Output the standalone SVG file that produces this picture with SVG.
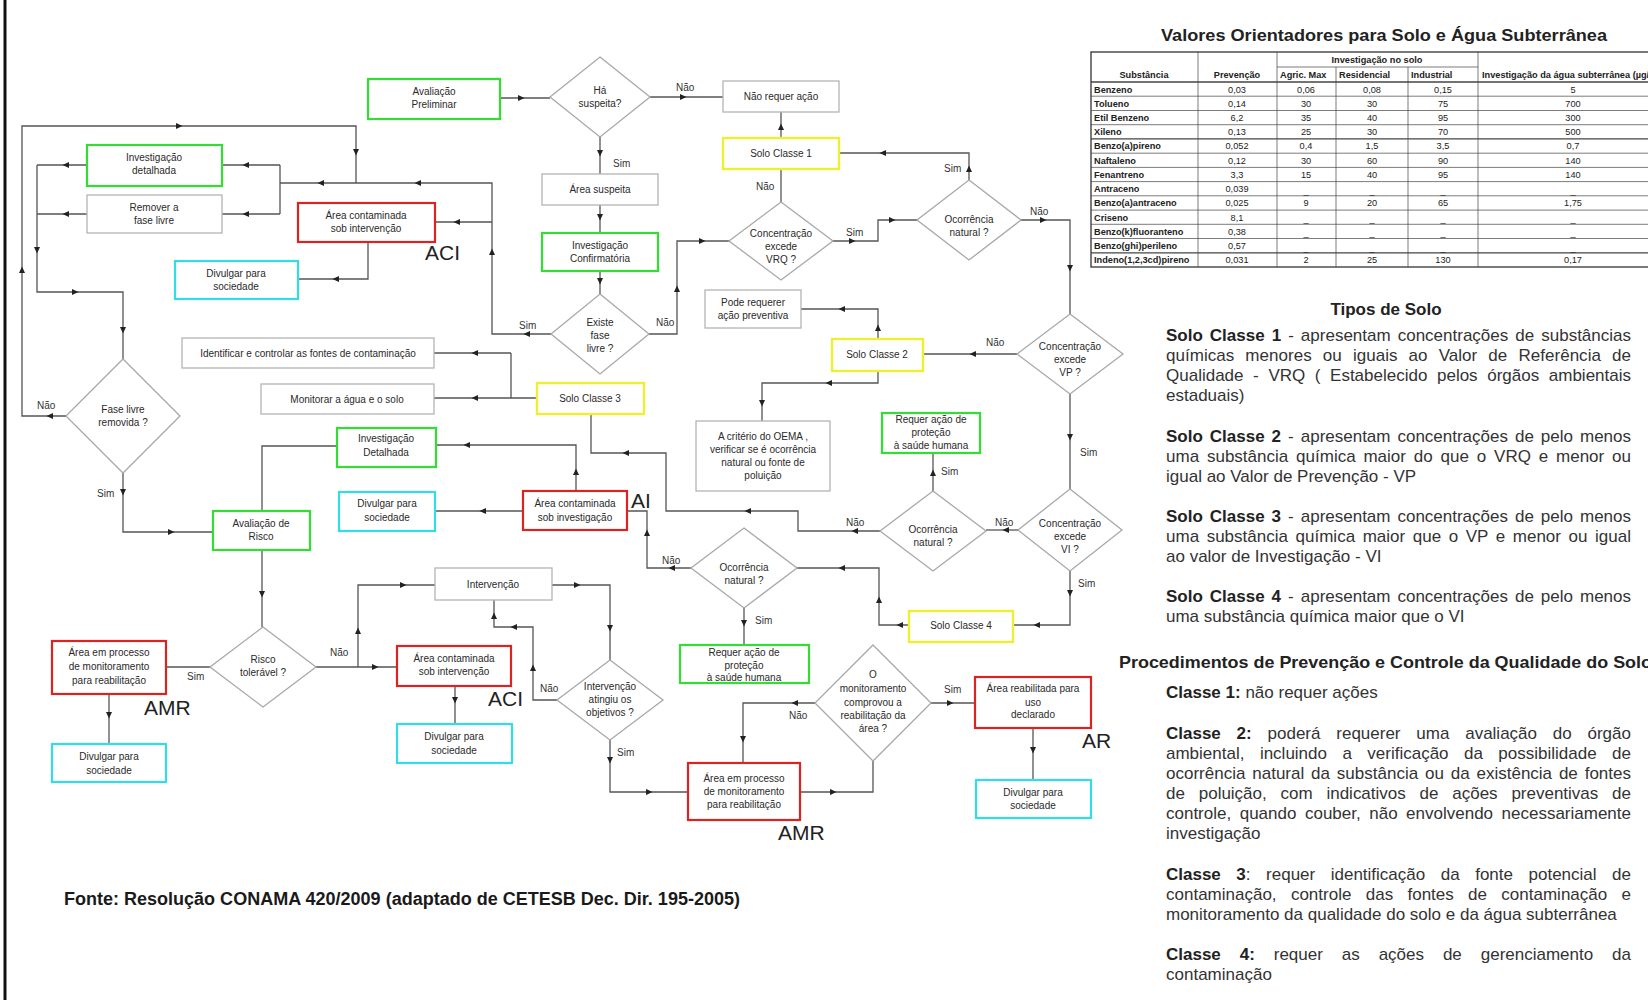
<svg xmlns="http://www.w3.org/2000/svg" xmlns:xlink="http://www.w3.org/1999/xlink" width="1648" height="1000" viewBox="0 0 1648 1000">
<style>
.c{fill:none;stroke:#555;stroke-width:1.3}
.gb{fill:#fff;stroke:#33dd33;stroke-width:2.2}
.rb{fill:#fff;stroke:#dd2222;stroke-width:2.2}
.cb{fill:#fff;stroke:#33dde6;stroke-width:2.2}
.yb{fill:#fff;stroke:#eeee33;stroke-width:2.4}
.nb{fill:#fff;stroke:#b4b4b4;stroke-width:1.3}
.dm{fill:#fff;stroke:#a8a8a8;stroke-width:1.3}
.t{font-family:"Liberation Sans",Arial,sans-serif;font-size:10px;fill:#2a2a2a;text-anchor:middle}
.l{font-family:"Liberation Sans",Arial,sans-serif;font-size:10px;fill:#333}
.big{font-family:"Liberation Sans",Arial,sans-serif;font-size:21px;fill:#222}
.tb{font-family:"Liberation Sans",Arial,sans-serif;font-size:9.2px;fill:#222}
.tn{font-family:"Liberation Sans",Arial,sans-serif;font-size:9.2px;fill:#222;text-anchor:middle}
.tl{stroke:#444;stroke-width:0.7}
.p{font-family:"Liberation Sans",Arial,sans-serif;font-size:17px;fill:#333}
.h{font-family:"Liberation Sans",Arial,sans-serif;font-size:17px;font-weight:bold;fill:#222}
</style>
<defs>
<path id="ar" d="M3.5,0 L-3,-3 L-3,3 Z" fill="#222"/>
</defs>
<rect width="1648" height="1000" fill="#fff"/>
<line x1="5" y1="0" x2="5" y2="1000" stroke="#111" stroke-width="3"/>

<!-- connectors -->
<g id="connectors">
<path class="c" d="M500,98 H550"/>
<path class="c" d="M650,97 H723"/>
<path class="c" d="M600,137 V174"/>
<path class="c" d="M600,205 V233"/>
<path class="c" d="M600,271 V294"/>
<path class="c" d="M649,334 H677 V241 H729"/>
<path class="c" d="M781,202 V169"/>
<path class="c" d="M781,138 V112"/>
<path class="c" d="M833,241 H878 V220 H917"/>
<path class="c" d="M969,180 V153 H839"/>
<path class="c" d="M1021,220 H1070 V314"/>
<path class="c" d="M1017,354 H923"/>
<path class="c" d="M878,339 V309 H801"/>
<path class="c" d="M878,371 V383 H762 V421"/>
<path class="c" d="M1070,394 V489"/>
<path class="c" d="M1018,530 H986"/>
<path class="c" d="M933,491 V453"/>
<path class="c" d="M880,531 H798 V511 H666 V453 H591 V414"/>
<path class="c" d="M1070,571 V625 H1013"/>
<path class="c" d="M909,625 H879 V568 H797"/>
<path class="c" d="M744,608 V645"/>
<path class="c" d="M691,568 H647 V511 H627"/>
<path class="c" d="M537,398 H511 M511,353 V398 M511,353 H434 M511,398 H434"/>
<path class="c" d="M576,491 V445 H436"/>
<path class="c" d="M523,511 H435"/>
<path class="c" d="M337,446 H262 V511"/>
<path class="c" d="M123,473 V532 H213"/>
<path class="c" d="M262,550 V627"/>
<path class="c" d="M210,667 H166"/>
<path class="c" d="M109,694 V744"/>
<path class="c" d="M316,667 H358 V585 H435 M358,667 H397"/>
<path class="c" d="M455,686 V724"/>
<path class="c" d="M552,585 H610 V660"/>
<path class="c" d="M557,700 H533 V627 H494 V600"/>
<path class="c" d="M610,740 V792 H688"/>
<path class="c" d="M800,792 H873 V761"/>
<path class="c" d="M815,703 H743 V763"/>
<path class="c" d="M931,703 H975"/>
<path class="c" d="M1033,728 V780"/>
<path class="c" d="M551,334 H492 V183 H280 M492,222 H435"/>
<path class="c" d="M280,165 V214 M280,165 H222 M280,214 H222"/>
<path class="c" d="M66,416 H22 V126 H356 V183"/>
<path class="c" d="M87,165 H37 M87,214 H37 M37,165 V292 H123 V359"/>
<path class="c" d="M368,242 V279 H298"/>

<use href="#ar" transform="translate(521,98)"/>
<use href="#ar" transform="translate(683,97)"/>
<use href="#ar" transform="translate(600,153) rotate(90)"/>
<use href="#ar" transform="translate(600,217) rotate(90)"/>
<use href="#ar" transform="translate(600,281) rotate(90)"/>
<use href="#ar" transform="translate(677,289) rotate(270)"/>
<use href="#ar" transform="translate(702,241)"/>
<use href="#ar" transform="translate(781,127) rotate(270)"/>
<use href="#ar" transform="translate(852,241)"/>
<use href="#ar" transform="translate(892,220)"/>
<use href="#ar" transform="translate(969,169) rotate(270)"/>
<use href="#ar" transform="translate(883,153) rotate(180)"/>
<use href="#ar" transform="translate(1043,220)"/>
<use href="#ar" transform="translate(1070,268) rotate(90)"/>
<use href="#ar" transform="translate(973,354) rotate(180)"/>
<use href="#ar" transform="translate(878,328) rotate(270)"/>
<use href="#ar" transform="translate(842,309) rotate(180)"/>
<use href="#ar" transform="translate(829,383) rotate(180)"/>
<use href="#ar" transform="translate(762,403) rotate(90)"/>
<use href="#ar" transform="translate(1070,437) rotate(90)"/>
<use href="#ar" transform="translate(1006,530) rotate(180)"/>
<use href="#ar" transform="translate(933,473) rotate(270)"/>
<use href="#ar" transform="translate(855,531) rotate(180)"/>
<use href="#ar" transform="translate(748,511) rotate(180)"/>
<use href="#ar" transform="translate(626,453) rotate(180)"/>
<use href="#ar" transform="translate(1070,593) rotate(90)"/>
<use href="#ar" transform="translate(1037,625) rotate(180)"/>
<use href="#ar" transform="translate(900,625) rotate(180)"/>
<use href="#ar" transform="translate(879,600) rotate(270)"/>
<use href="#ar" transform="translate(842,568) rotate(180)"/>
<use href="#ar" transform="translate(744,623) rotate(90)"/>
<use href="#ar" transform="translate(672,568) rotate(180)"/>
<use href="#ar" transform="translate(647,533) rotate(270)"/>
<use href="#ar" transform="translate(475,353) rotate(180)"/>
<use href="#ar" transform="translate(475,398) rotate(180)"/>
<use href="#ar" transform="translate(576,472) rotate(270)"/>
<use href="#ar" transform="translate(467,445) rotate(180)"/>
<use href="#ar" transform="translate(483,511) rotate(180)"/>
<use href="#ar" transform="translate(123,492) rotate(90)"/>
<use href="#ar" transform="translate(171,532)"/>
<use href="#ar" transform="translate(262,594) rotate(90)"/>
<use href="#ar" transform="translate(109,715) rotate(90)"/>
<use href="#ar" transform="translate(358,631) rotate(270)"/>
<use href="#ar" transform="translate(403,585)"/>
<use href="#ar" transform="translate(375,667)"/>
<use href="#ar" transform="translate(455,700) rotate(90)"/>
<use href="#ar" transform="translate(577,585)"/>
<use href="#ar" transform="translate(610,628) rotate(90)"/>
<use href="#ar" transform="translate(533,668) rotate(270)"/>
<use href="#ar" transform="translate(514,627) rotate(180)"/>
<use href="#ar" transform="translate(494,616) rotate(270)"/>
<use href="#ar" transform="translate(610,760) rotate(90)"/>
<use href="#ar" transform="translate(649,792)"/>
<use href="#ar" transform="translate(833,792)"/>
<use href="#ar" transform="translate(795,703) rotate(180)"/>
<use href="#ar" transform="translate(743,739) rotate(90)"/>
<use href="#ar" transform="translate(950,703)"/>
<use href="#ar" transform="translate(1033,750) rotate(90)"/>
<use href="#ar" transform="translate(527,334) rotate(180)"/>
<use href="#ar" transform="translate(492,252) rotate(270)"/>
<use href="#ar" transform="translate(457,222) rotate(180)"/>
<use href="#ar" transform="translate(418,183) rotate(180)"/>
<use href="#ar" transform="translate(321,183) rotate(180)"/>
<use href="#ar" transform="translate(246,165) rotate(180)"/>
<use href="#ar" transform="translate(246,214) rotate(180)"/>
<use href="#ar" transform="translate(50,416) rotate(180)"/>
<use href="#ar" transform="translate(22,270) rotate(270)"/>
<use href="#ar" transform="translate(179,126)"/>
<use href="#ar" transform="translate(356,152) rotate(90)"/>
<use href="#ar" transform="translate(66,165) rotate(180)"/>
<use href="#ar" transform="translate(66,214) rotate(180)"/>
<use href="#ar" transform="translate(37,250) rotate(90)"/>
<use href="#ar" transform="translate(75,292)"/>
<use href="#ar" transform="translate(123,330) rotate(90)"/>
<use href="#ar" transform="translate(336,279) rotate(180)"/>

<text class="l" x="676" y="91">Não</text>
<text class="l" x="613" y="167">Sim</text>
<text class="l" x="656" y="326">Não</text>
<text class="l" x="756" y="190">Não</text>
<text class="l" x="846" y="236">Sim</text>
<text class="l" x="944" y="172">Sim</text>
<text class="l" x="1030" y="215">Não</text>
<text class="l" x="986" y="346">Não</text>
<text class="l" x="1080" y="456">Sim</text>
<text class="l" x="995" y="526">Não</text>
<text class="l" x="941" y="475">Sim</text>
<text class="l" x="846" y="526">Não</text>
<text class="l" x="1078" y="587">Sim</text>
<text class="l" x="755" y="624">Sim</text>
<text class="l" x="662" y="564">Não</text>
<text class="l" x="519" y="329">Sim</text>
<text class="l" x="37" y="409">Não</text>
<text class="l" x="97" y="497">Sim</text>
<text class="l" x="187" y="680">Sim</text>
<text class="l" x="330" y="656">Não</text>
<text class="l" x="540" y="692">Não</text>
<text class="l" x="617" y="756">Sim</text>
<text class="l" x="789" y="719">Não</text>
<text class="l" x="944" y="693">Sim</text>
</g>

<!-- nodes -->
<g id="avaliacao-preliminar"><rect class="gb" x="368" y="79" width="132" height="40"/><text class="t" x="434" y="95">Avaliação</text><text class="t" x="434" y="108">Preliminar</text></g>
<g id="ha-suspeita"><polygon class="dm" points="600,57 650,97 600,137 550,97"/><text class="t" x="600" y="94">Há</text><text class="t" x="600" y="107">suspeita?</text></g>
<g id="nao-requer-acao"><rect class="nb" x="723" y="81" width="116" height="31"/><text class="t" x="781" y="100">Não requer ação</text></g>
<g id="area-suspeita"><rect class="nb" x="542" y="174" width="116" height="31"/><text class="t" x="600" y="193">Área suspeita</text></g>
<g id="investigacao-confirmatoria"><rect class="gb" x="542" y="233" width="116" height="38"/><text class="t" x="600" y="249">Investigação</text><text class="t" x="600" y="262">Confirmatória</text></g>
<g id="solo-classe-1"><rect class="yb" x="723" y="138" width="116" height="31"/><text class="t" x="781" y="157">Solo Classe 1</text></g>
<g id="excede-vrq"><polygon class="dm" points="781,202 833,241 781,280 729,241"/><text class="t" x="781" y="237">Concentração</text><text class="t" x="781" y="250">excede</text><text class="t" x="781" y="263">VRQ ?</text></g>
<g id="ocorrencia-natural-1"><polygon class="dm" points="969,180 1021,220 969,260 917,220"/><text class="t" x="969" y="223">Ocorrência</text><text class="t" x="969" y="236">natural ?</text></g>
<g id="excede-vp"><polygon class="dm" points="1070,314 1123,354 1070,394 1017,354"/><text class="t" x="1070" y="350">Concentração</text><text class="t" x="1070" y="363">excede</text><text class="t" x="1070" y="376">VP ?</text></g>
<g id="existe-fase-livre"><polygon class="dm" points="600,294 649,334 600,374 551,334"/><text class="t" x="600" y="326">Existe</text><text class="t" x="600" y="339">fase</text><text class="t" x="600" y="352">livre ?</text></g>
<g id="pode-requerer"><rect class="nb" x="705" y="290" width="96" height="38"/><text class="t" x="753" y="306">Pode requerer</text><text class="t" x="753" y="319">ação preventiva</text></g>
<g id="solo-classe-2"><rect class="yb" x="832" y="339" width="91" height="32"/><text class="t" x="877" y="358">Solo Classe 2</text></g>
<g id="criterio-oema"><rect class="nb" x="696" y="421" width="134" height="70"/><text class="t" x="763" y="440">A critério do OEMA ,</text><text class="t" x="763" y="453">verificar se é ocorrência</text><text class="t" x="763" y="466">natural ou fonte de</text><text class="t" x="763" y="479">poluição</text></g>
<g id="solo-classe-3"><rect class="yb" x="537" y="383" width="107" height="31"/><text class="t" x="590" y="402">Solo Classe 3</text></g>
<g id="identificar-fontes"><rect class="nb" x="182" y="338" width="252" height="30"/><text class="t" x="308" y="357">Identificar e controlar as fontes de contaminação</text></g>
<g id="monitorar"><rect class="nb" x="261" y="384" width="173" height="30"/><text class="t" x="347" y="403">Monitorar a água e o solo</text></g>
<g id="requer-acao-1"><rect class="gb" x="882" y="413" width="98" height="40"/><text class="t" x="931" y="423">Requer ação de</text><text class="t" x="931" y="436">proteção</text><text class="t" x="931" y="449">à saúde humana</text></g>
<g id="excede-vi"><polygon class="dm" points="1070,489 1122,530 1070,571 1018,530"/><text class="t" x="1070" y="527">Concentração</text><text class="t" x="1070" y="540">excede</text><text class="t" x="1070" y="553">VI ?</text></g>
<g id="ocorrencia-natural-2"><polygon class="dm" points="933,491 986,531 933,571 880,531"/><text class="t" x="933" y="533">Ocorrência</text><text class="t" x="933" y="546">natural ?</text></g>
<g id="ocorrencia-natural-3"><polygon class="dm" points="744,528 797,568 744,608 691,568"/><text class="t" x="744" y="571">Ocorrência</text><text class="t" x="744" y="584">natural ?</text></g>
<g id="solo-classe-4"><rect class="yb" x="909" y="611" width="104" height="31"/><text class="t" x="961" y="629">Solo Classe 4</text></g>
<g id="requer-acao-2"><rect class="gb" x="680" y="645" width="129" height="38"/><text class="t" x="744" y="656">Requer ação de</text><text class="t" x="744" y="669">proteção</text><text class="t" x="744" y="681">à saúde humana</text></g>
<g id="area-sob-investigacao"><rect class="rb" x="523" y="491" width="104" height="39"/><text class="t" x="575" y="507">Área contaminada</text><text class="t" x="575" y="521">sob investigação</text><text class="big" x="631" y="508">AI</text></g>
<g id="investigacao-detalhada-2"><rect class="gb" x="337" y="428" width="99" height="39"/><text class="t" x="386" y="442">Investigação</text><text class="t" x="386" y="456">Detalhada</text></g>
<g id="divulgar-2"><rect class="cb" x="339" y="492" width="96" height="39"/><text class="t" x="387" y="507">Divulgar para</text><text class="t" x="387" y="521">sociedade</text></g>
<g id="fase-livre-removida"><polygon class="dm" points="123,359 180,416 123,473 66,416"/><text class="t" x="123" y="413">Fase livre</text><text class="t" x="123" y="426">removida ?</text></g>
<g id="avaliacao-risco"><rect class="gb" x="213" y="511" width="97" height="39"/><text class="t" x="261" y="527">Avaliação de</text><text class="t" x="261" y="540">Risco</text></g>
<g id="intervencao"><rect class="nb" x="435" y="568" width="117" height="32"/><text class="t" x="493" y="588">Intervenção</text></g>
<g id="risco-toleravel"><polygon class="dm" points="263,627 316,667 263,707 210,667"/><text class="t" x="263" y="663">Risco</text><text class="t" x="263" y="676">tolerável ?</text></g>
<g id="amr-1"><rect class="rb" x="52" y="641" width="114" height="53"/><text class="t" x="109" y="656">Área em processo</text><text class="t" x="109" y="670">de monitoramento</text><text class="t" x="109" y="684">para reabilitação</text><text class="big" x="144" y="715">AMR</text></g>
<g id="divulgar-3"><rect class="cb" x="52" y="744" width="114" height="38"/><text class="t" x="109" y="760">Divulgar para</text><text class="t" x="109" y="774">sociedade</text></g>
<g id="aci-2"><rect class="rb" x="397" y="646" width="114" height="40"/><text class="t" x="454" y="662">Área contaminada</text><text class="t" x="454" y="675">sob intervenção</text><text class="big" x="488" y="706">ACI</text></g>
<g id="divulgar-4"><rect class="cb" x="397" y="724" width="115" height="39"/><text class="t" x="454" y="740">Divulgar para</text><text class="t" x="454" y="754">sociedade</text></g>
<g id="intervencao-atingiu"><polygon class="dm" points="610,660 663,700 610,740 557,700"/><text class="t" x="610" y="690">Intervenção</text><text class="t" x="610" y="703">atingiu os</text><text class="t" x="610" y="716">objetivos ?</text></g>
<g id="amr-2"><rect class="rb" x="688" y="763" width="112" height="57"/><text class="t" x="744" y="782">Área em processo</text><text class="t" x="744" y="795">de monitoramento</text><text class="t" x="744" y="808">para reabilitação</text><text class="big" x="778" y="840">AMR</text></g>
<g id="monitoramento-comprovou"><polygon class="dm" points="873,645 931,703 873,761 815,703"/><text class="t" x="873" y="678">O</text><text class="t" x="873" y="692">monitoramento</text><text class="t" x="873" y="706">comprovou a</text><text class="t" x="873" y="719">reabilitação da</text><text class="t" x="873" y="732">área ?</text></g>
<g id="ar-reabilitada"><rect class="rb" x="975" y="677" width="116" height="51"/><text class="t" x="1033" y="692">Área reabilitada para</text><text class="t" x="1033" y="706">uso</text><text class="t" x="1033" y="718">declarado</text><text class="big" x="1082" y="748">AR</text></g>
<g id="divulgar-5"><rect class="cb" x="976" y="780" width="115" height="38"/><text class="t" x="1033" y="796">Divulgar para</text><text class="t" x="1033" y="809">sociedade</text></g>
<g id="investigacao-detalhada-1"><rect class="gb" x="87" y="145" width="135" height="41"/><text class="t" x="154" y="161">Investigação</text><text class="t" x="154" y="174">detalhada</text></g>
<g id="remover-fase-livre"><rect class="nb" x="87" y="195" width="135" height="38"/><text class="t" x="154" y="211">Remover a</text><text class="t" x="154" y="224">fase livre</text></g>
<g id="aci-1"><rect class="rb" x="298" y="203" width="137" height="39"/><text class="t" x="366" y="219">Área contaminada</text><text class="t" x="366" y="232">sob intervenção</text><text class="big" x="425" y="260">ACI</text></g>
<g id="divulgar-1"><rect class="cb" x="175" y="261" width="123" height="38"/><text class="t" x="236" y="277">Divulgar para</text><text class="t" x="236" y="290">sociedade</text></g>

<!-- source -->
<text x="64" y="905" font-family="'Liberation Sans Narrow','Liberation Sans',Arial,sans-serif" font-size="18" font-weight="bold" fill="#1a1a1a" textLength="676" lengthAdjust="spacingAndGlyphs">Fonte: Resolução CONAMA 420/2009 (adaptado de CETESB Dec. Dir. 195-2005)</text>

<!-- table -->
<g id="tabela">
<text class="h" x="1161" y="41" font-size="16" textLength="446" lengthAdjust="spacingAndGlyphs">Valores Orientadores para Solo e Água Subterrânea</text>
<rect x="1091" y="52" width="600" height="215" fill="none" stroke="#333" stroke-width="1.3"/>
<g class="tl">
<line x1="1198" y1="52" x2="1198" y2="267"/>
<line x1="1277" y1="52" x2="1277" y2="267"/>
<line x1="1336" y1="67" x2="1336" y2="267"/>
<line x1="1408" y1="67" x2="1408" y2="267"/>
<line x1="1478" y1="52" x2="1478" y2="267"/>
<line x1="1277" y1="67" x2="1478" y2="67"/>
<line x1="1091" y1="82" x2="1648" y2="82" stroke-width="1.3"/>
<line x1="1091" y1="96.2" x2="1648" y2="96.2"/>
<line x1="1091" y1="110.5" x2="1648" y2="110.5"/>
<line x1="1091" y1="124.7" x2="1648" y2="124.7"/>
<line x1="1091" y1="138.9" x2="1648" y2="138.9" stroke-width="1.2"/>
<line x1="1091" y1="153.2" x2="1648" y2="153.2"/>
<line x1="1091" y1="167.4" x2="1648" y2="167.4"/>
<line x1="1091" y1="181.6" x2="1648" y2="181.6"/>
<line x1="1091" y1="195.8" x2="1648" y2="195.8"/>
<line x1="1091" y1="210.1" x2="1648" y2="210.1"/>
<line x1="1091" y1="224.3" x2="1648" y2="224.3"/>
<line x1="1091" y1="238.5" x2="1648" y2="238.5"/>
<line x1="1091" y1="252.8" x2="1648" y2="252.8" stroke-width="1.2"/>
</g>
<g font-weight="bold">
<text class="tn" x="1144" y="78">Substância</text>
<text class="tn" x="1237" y="78">Prevenção</text>
<text class="tn" x="1377" y="63">Investigação no solo</text>
<text class="tb" x="1280" y="78">Agric. Max</text>
<text class="tb" x="1339" y="78">Residencial</text>
<text class="tb" x="1411" y="78">Industrial</text>
<text class="tb" x="1482" y="78">Investigação da água subterrânea (µg/</text>
<text class="tb" x="1094" y="92.5">Benzeno</text>
<text class="tb" x="1094" y="106.7">Tolueno</text>
<text class="tb" x="1094" y="120.9">Etil Benzeno</text>
<text class="tb" x="1094" y="135.2">Xileno</text>
<text class="tb" x="1094" y="149.4">Benzo(a)pireno</text>
<text class="tb" x="1094" y="163.6">Naftaleno</text>
<text class="tb" x="1094" y="177.9">Fenantreno</text>
<text class="tb" x="1094" y="192.1">Antraceno</text>
<text class="tb" x="1094" y="206.3">Benzo(a)antraceno</text>
<text class="tb" x="1094" y="220.5">Criseno</text>
<text class="tb" x="1094" y="234.8">Benzo(k)fluoranteno</text>
<text class="tb" x="1094" y="249">Benzo(ghi)perileno</text>
<text class="tb" x="1094" y="263.2">Indeno(1,2,3cd)pireno</text>
</g>
<g>
<text class="tn" x="1237" y="92.5">0,03</text><text class="tn" x="1306" y="92.5">0,06</text><text class="tn" x="1372" y="92.5">0,08</text><text class="tn" x="1443" y="92.5">0,15</text><text class="tn" x="1573" y="92.5">5</text>
<text class="tn" x="1237" y="106.7">0,14</text><text class="tn" x="1306" y="106.7">30</text><text class="tn" x="1372" y="106.7">30</text><text class="tn" x="1443" y="106.7">75</text><text class="tn" x="1573" y="106.7">700</text>
<text class="tn" x="1237" y="120.9">6,2</text><text class="tn" x="1306" y="120.9">35</text><text class="tn" x="1372" y="120.9">40</text><text class="tn" x="1443" y="120.9">95</text><text class="tn" x="1573" y="120.9">300</text>
<text class="tn" x="1237" y="135.2">0,13</text><text class="tn" x="1306" y="135.2">25</text><text class="tn" x="1372" y="135.2">30</text><text class="tn" x="1443" y="135.2">70</text><text class="tn" x="1573" y="135.2">500</text>
<text class="tn" x="1237" y="149.4">0,052</text><text class="tn" x="1306" y="149.4">0,4</text><text class="tn" x="1372" y="149.4">1,5</text><text class="tn" x="1443" y="149.4">3,5</text><text class="tn" x="1573" y="149.4">0,7</text>
<text class="tn" x="1237" y="163.6">0,12</text><text class="tn" x="1306" y="163.6">30</text><text class="tn" x="1372" y="163.6">60</text><text class="tn" x="1443" y="163.6">90</text><text class="tn" x="1573" y="163.6">140</text>
<text class="tn" x="1237" y="177.9">3,3</text><text class="tn" x="1306" y="177.9">15</text><text class="tn" x="1372" y="177.9">40</text><text class="tn" x="1443" y="177.9">95</text><text class="tn" x="1573" y="177.9">140</text>
<text class="tn" x="1237" y="192.1">0,039</text><text class="tn" x="1306" y="194">_</text><text class="tn" x="1372" y="194">_</text><text class="tn" x="1443" y="194">_</text><text class="tn" x="1573" y="194">_</text>
<text class="tn" x="1237" y="206.3">0,025</text><text class="tn" x="1306" y="206.3">9</text><text class="tn" x="1372" y="206.3">20</text><text class="tn" x="1443" y="206.3">65</text><text class="tn" x="1573" y="206.3">1,75</text>
<text class="tn" x="1237" y="220.5">8,1</text><text class="tn" x="1306" y="222">_</text><text class="tn" x="1372" y="222">_</text><text class="tn" x="1443" y="222">_</text><text class="tn" x="1573" y="222">_</text>
<text class="tn" x="1237" y="234.8">0,38</text><text class="tn" x="1306" y="236">_</text><text class="tn" x="1372" y="236">_</text><text class="tn" x="1443" y="236">_</text><text class="tn" x="1573" y="236">_</text>
<text class="tn" x="1237" y="249">0,57</text><text class="tn" x="1306" y="250.5">_</text><text class="tn" x="1372" y="250.5">_</text><text class="tn" x="1443" y="250.5">_</text><text class="tn" x="1573" y="250.5">_</text>
<text class="tn" x="1237" y="263.2">0,031</text><text class="tn" x="1306" y="263.2">2</text><text class="tn" x="1372" y="263.2">25</text><text class="tn" x="1443" y="263.2">130</text><text class="tn" x="1573" y="263.2">0,17</text>
</g>
</g>

<!-- tipos de solo -->
<g id="tipos-de-solo">
<text class="h" x="1386" y="315" text-anchor="middle">Tipos de Solo</text>
<text class="p" x="1166" y="341" word-spacing="2.3" textLength="465" lengthAdjust="spacing"><tspan class="h">Solo Classe 1</tspan> - apresentam concentrações de substâncias</text>
<text class="p" x="1166" y="361" word-spacing="6.4" textLength="465" lengthAdjust="spacing">químicas menores ou iguais ao Valor de Referência de</text>
<text class="p" x="1166" y="381" word-spacing="4.9" textLength="465" lengthAdjust="spacing">Qualidade - VRQ ( Estabelecido pelos órgãos ambientais</text>
<text class="p" x="1166" y="401">estaduais)</text>
<text class="p" x="1166" y="442" word-spacing="2.3" textLength="465" lengthAdjust="spacing"><tspan class="h">Solo Classe 2</tspan> - apresentam concentrações de pelo menos</text>
<text class="p" x="1166" y="462" word-spacing="3.1" textLength="465" lengthAdjust="spacing">uma substância química maior do que o VRQ e menor ou</text>
<text class="p" x="1166" y="482">igual ao Valor de Prevenção - VP</text>
<text class="p" x="1166" y="522" word-spacing="2.3" textLength="465" lengthAdjust="spacing"><tspan class="h">Solo Classe 3</tspan> - apresentam concentrações de pelo menos</text>
<text class="p" x="1166" y="542" word-spacing="2.85" textLength="465" lengthAdjust="spacing">uma substância química maior que o VP e menor ou igual</text>
<text class="p" x="1166" y="562">ao valor de Investigação - VI</text>
<text class="p" x="1166" y="602" word-spacing="2.3" textLength="465" lengthAdjust="spacing"><tspan class="h">Solo Classe 4</tspan> - apresentam concentrações de pelo menos</text>
<text class="p" x="1166" y="622">uma substância química maior que o VI</text>
</g>

<!-- procedimentos -->
<g id="procedimentos">
<text class="h" x="1119" y="668" textLength="533" lengthAdjust="spacingAndGlyphs">Procedimentos de Prevenção e Controle da Qualidade do Solo</text>
<text class="p" x="1166" y="698"><tspan class="h">Classe 1:</tspan> não requer ações</text>
<text class="p" x="1166" y="739" word-spacing="11.1" textLength="465" lengthAdjust="spacing"><tspan class="h">Classe 2:</tspan> poderá requerer uma avaliação do órgão</text>
<text class="p" x="1166" y="759" word-spacing="10.7" textLength="465" lengthAdjust="spacing">ambiental, incluindo a verificação da possibilidade de</text>
<text class="p" x="1166" y="779" word-spacing="2.1" textLength="465" lengthAdjust="spacing">ocorrência natural da substância ou da existência de fontes</text>
<text class="p" x="1166" y="799" word-spacing="9.1" textLength="465" lengthAdjust="spacing">de poluição, com indicativos de ações preventivas de</text>
<text class="p" x="1166" y="819" word-spacing="3.8" textLength="465" lengthAdjust="spacing">controle, quando couber, não envolvendo necessariamente</text>
<text class="p" x="1166" y="839">investigação</text>
<text class="p" x="1166" y="880" word-spacing="10.8" textLength="465" lengthAdjust="spacing"><tspan class="h">Classe 3</tspan>: requer identificação da fonte potencial de</text>
<text class="p" x="1166" y="900" word-spacing="9.6" textLength="465" lengthAdjust="spacing">contaminação, controle das fontes de contaminação e</text>
<text class="p" x="1166" y="920">monitoramento da qualidade do solo e da água subterrânea</text>
<text class="p" x="1166" y="960" word-spacing="14.2" textLength="465" lengthAdjust="spacing"><tspan class="h">Classe 4:</tspan> requer as ações de gerenciamento da</text>
<text class="p" x="1166" y="980">contaminação</text>
</g>
</svg>
